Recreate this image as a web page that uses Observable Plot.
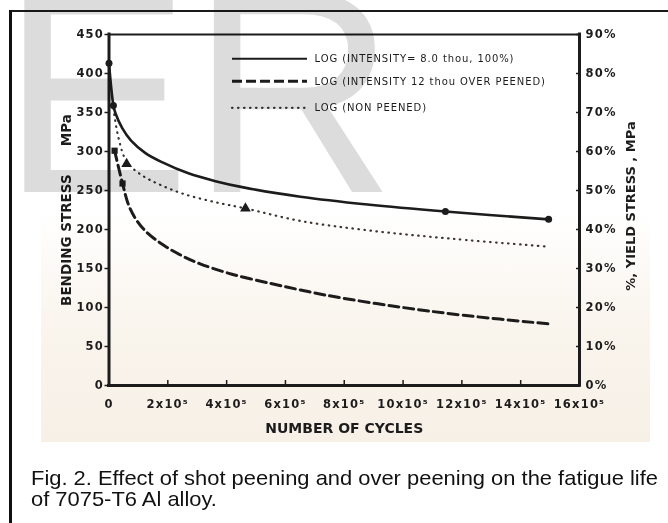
<!DOCTYPE html>
<html><head><meta charset="utf-8">
<script src="https://cdn.jsdelivr.net/npm/d3@7"></script>
<script src="https://cdn.jsdelivr.net/npm/@observablehq/plot@0.6"></script>
<style>
html,body{margin:0;padding:0;background:#fff;}
body{width:668px;height:523px;position:relative;overflow:hidden;}
#scan{position:absolute;left:41px;top:13px;width:609px;height:429px;
  background:linear-gradient(to bottom,#ffffff 0px,#ffffff 200px,#f9f4ec 320px,#f7f0e7 429px);}
#chart{position:absolute;left:0;top:0;}
#btop{position:absolute;left:9px;top:10px;width:659px;height:2px;background:#1a1a1a;}
#bleft{position:absolute;left:9px;top:10px;width:3px;height:513px;background:#111;}
#caption{position:absolute;left:30.5px;top:466.5px;font-family:"Liberation Sans",Arial,sans-serif;font-size:21px;line-height:21px;color:#111;white-space:nowrap;}
#caption span{display:inline-block;transform-origin:0 0;}
#wm{position:absolute;left:0;top:0;mix-blend-mode:multiply;pointer-events:none;}
#chart svg [aria-label="y-axis tick label"] text,
#chart svg [aria-label="x-axis tick label"] text{letter-spacing:1.2px;}
#chart svg g.legend-text text{letter-spacing:0.9px;}
</style></head>
<body>
<div id="scan"></div>
<div id="chart"></div>
<div id="btop"></div>
<div id="bleft"></div>
<div id="caption"><span id="l1">Fig. 2. Effect of shot peening and over peening on the fatigue life</span><br><span id="l2">of 7075-T6 Al alloy.</span></div>
<svg id="wm" width="668" height="523"><text transform="translate(1,192) scale(0.98,1)" font-family="Liberation Sans" font-size="290" fill="#dcdcdc">ER</text></svg>
<script>
// ---- tick values and labels ----
const xTicks = [0, 200000, 400000, 600000, 800000, 1000000, 1200000, 1400000, 1600000];
const xLabels = ["0", "2x10⁵", "4x10⁵", "6x10⁵", "8x10⁵", "10x10⁵", "12x10⁵", "14x10⁵", "16x10⁵"];
const yTicks = [0, 50, 100, 150, 200, 250, 300, 350, 400, 450];
const yLabels = ["0", "50", "100", "150", "200", "250", "300", "350", "400", "450"];
const pctLabels = ["0%", "10%", "20%", "30%", "40%", "50%", "60%", "70%", "80%", "90%"];

// ---- series (cycles, bending stress MPa) ----
const seriesNames = ["LOG (INTENSITY= 8.0 thou, 100%)", "LOG (INTENSITY 12 thou OVER PEENED)", "LOG (NON PEENED)"];

const peenedCycles = [0, 15000, 22000, 45000, 75000, 124000, 182000, 270000, 362000, 457000, 651000, 879000, 1144000, 1495000];
const peenedStress = [413, 359, 349, 330, 314, 298, 286, 272, 262, 254, 242, 232, 223, 213];
const peenedMarkCycles = [0, 15000, 1144000, 1495000];
const peenedMarkStress = [413, 359, 223, 213];

const overCycles = [19000, 46000, 66000, 90000, 124000, 177000, 245000, 310000, 415000, 548000, 651000, 764000, 981000, 1206000, 1495000];
const overStress = [301, 259, 232, 214, 198, 182, 167, 156, 143, 131, 122.5, 114, 101, 90, 79];
const overMarkCycles = [19000, 46000];
const overMarkStress = [301, 259];

const nonCycles = [15000, 32000, 60000, 110000, 170000, 250000, 350000, 464000, 651000, 879000, 1170000, 1495000];
const nonStress = [355, 318, 287, 270, 258, 246, 236, 227, 211, 199, 188, 178];
const nonMarkCycles = [60000, 464000];
const nonMarkStress = [284, 227];

// ---- legend placement (data units) ----
const legendStress = [419, 390, 356];
const legendX1 = 420000, legendX2 = 675000, legendTextX = 699000;

// ---- titles ----
const xTitle = "NUMBER OF CYCLES";
const yTitle = "BENDING STRESS\u00a0\u00a0\u00a0\u00a0\u00a0\u00a0MPa";
const y2Title = "%, YIELD STRESS , MPa";

const toRows = (xs, ys) => xs.map((x, i) => ({x, y: ys[i]}));
const peened = toRows(peenedCycles, peenedStress);
const over = toRows(overCycles, overStress);
const non = toRows(nonCycles, nonStress);
const legendRows = seriesNames.map((name, i) => ({name, y: legendStress[i]}));

const ink = "#1c1c1c";
const tickFont = {fontFamily: "DejaVu Sans", fontSize: 11.5, fontWeight: "bold"};
const titleFont = {fontFamily: "DejaVu Sans", fontWeight: "bold", fill: ink, textAnchor: "middle", lineAnchor: "middle"};

const chart = Plot.plot({
  width: 668, height: 450,
  marginLeft: 108.5, marginRight: 89, marginTop: 34, marginBottom: 65,
  style: {background: "transparent", fontFamily: "DejaVu Sans", color: ink, overflow: "visible"},
  x: {domain: [0, 1600000]},
  y: {domain: [0, 450]},
  marks: [
    // axes frame
    Plot.ruleY([450], {stroke: ink, strokeWidth: 1.8}),
    Plot.ruleX([0], {stroke: ink, strokeWidth: 3, strokeLinecap: "square"}),
    Plot.ruleX([1600000], {stroke: ink, strokeWidth: 3, strokeLinecap: "square"}),
    Plot.ruleY([0], {stroke: ink, strokeWidth: 3, strokeLinecap: "square"}),
    // left axis
    Plot.axisY({anchor: "left", ticks: yTicks, tickFormat: d => yLabels[yTicks.indexOf(d)], tickSize: 4, tickPadding: 1, label: null, strokeWidth: 1.5, ...tickFont}),
    // right axis
    Plot.axisY({anchor: "right", ticks: yTicks, tickFormat: d => pctLabels[yTicks.indexOf(d)], tickSize: -4, tickPadding: 10, label: null, strokeWidth: 1.5, ...tickFont}),
    // bottom axis
    Plot.axisX({anchor: "bottom", ticks: xTicks.slice(1, -1), tickSize: -5, tickPadding: 0, tickFormat: () => "", label: null, strokeWidth: 1.5}),
    Plot.axisX({anchor: "bottom", ticks: xTicks, tickFormat: d => xLabels[xTicks.indexOf(d)], tickSize: 0, tickPadding: 14, label: null, ...tickFont}),
    // titles
    Plot.text([xTitle], {text: d => d, frameAnchor: "bottom", dy: 43, fontSize: 14, ...titleFont}),
    Plot.text([yTitle], {text: d => d, frameAnchor: "left", dx: -42, rotate: -90, fontSize: 13.5, ...titleFont}),
    Plot.text([y2Title], {text: d => d, frameAnchor: "right", dx: 51, dy: -4, rotate: -90, fontSize: 13, ...titleFont}),
    // curves
    Plot.line(non, {x: "x", y: "y", curve: "catmull-rom", stroke: "#3a3530", strokeWidth: 2.2, strokeDasharray: "0.5,5.5", strokeLinecap: "round"}),
    Plot.line(over, {x: "x", y: "y", curve: "catmull-rom", stroke: ink, strokeWidth: 3, strokeDasharray: "10,5"}),
    Plot.line(peened, {x: "x", y: "y", curve: "catmull-rom", stroke: ink, strokeWidth: 2.6}),
    // markers
    Plot.dot(toRows(peenedMarkCycles, peenedMarkStress), {x: "x", y: "y", r: 3.5, fill: ink, symbol: "circle"}),
    Plot.dot(toRows(overMarkCycles, overMarkStress), {x: "x", y: "y", r: 3.5, fill: ink, symbol: "square"}),
    Plot.dot(toRows(nonMarkCycles, nonMarkStress), {x: "x", y: "y", r: 4, fill: ink, symbol: "triangle"}),
    // legend
    Plot.ruleY([legendRows[0]], {y: "y", x1: legendX1, x2: legendX2, stroke: ink, strokeWidth: 2}),
    Plot.ruleY([legendRows[1]], {y: "y", x1: legendX1, x2: legendX2, stroke: ink, strokeWidth: 3, strokeDasharray: "10,4"}),
    Plot.ruleY([legendRows[2]], {y: "y", x1: legendX1, x2: legendX2, stroke: "#3a3530", strokeWidth: 2.2, strokeDasharray: "0.5,5.5", strokeLinecap: "round"}),
    Plot.text(legendRows, {x: legendTextX, y: "y", text: "name", textAnchor: "start", fontFamily: "DejaVu Sans", fontSize: 10, fill: ink, className: "legend-text"})
  ]
});
document.getElementById("chart").appendChild(chart);

// fit caption line width to the reference
const l1 = document.getElementById("l1"), l2 = document.getElementById("l2");
const w = l1.getBoundingClientRect().width;
const s = 627 / w;
l1.style.transform = `scaleX(${s})`;
l2.style.transform = `scaleX(${s})`;
</script>
</body></html>
